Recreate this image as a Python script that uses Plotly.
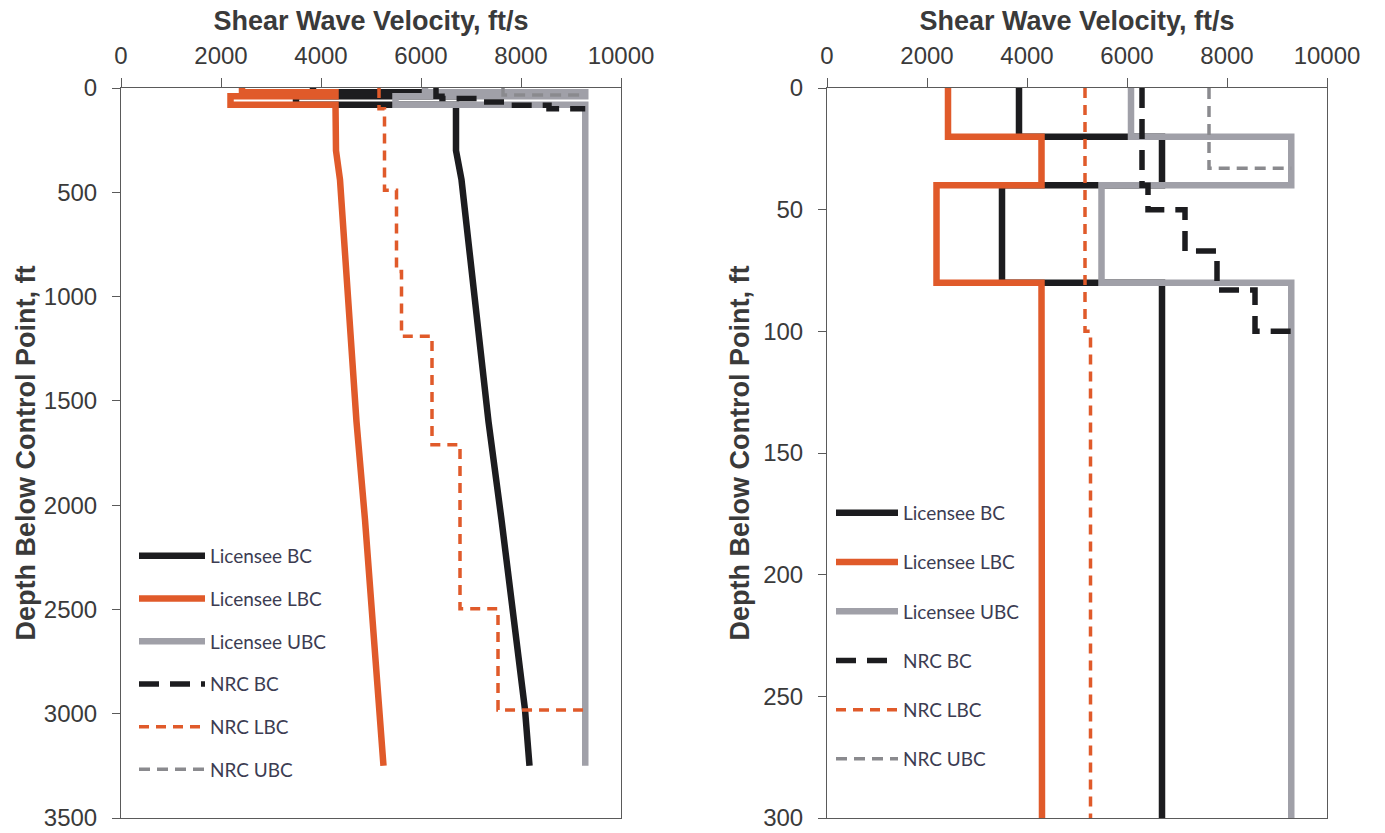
import plotly.graph_objects as go

# Shear wave velocity profiles: (depth ft, Vs ft/s) vertices of each stepped profile
lic_bc_depth = [0, 20, 20, 40, 40, 80, 80, 300, 440, 920, 1600, 2070, 2550, 2980, 3250]
lic_bc_vs = [3840, 3840, 6700, 6700, 3500, 3500, 6700, 6700, 6810, 7040, 7350, 7610, 7850, 8080, 8170]

lic_lbc_depth = [0, 20, 20, 40, 40, 80, 80, 300, 440, 920, 1600, 2070, 2550, 3030, 3250]
lic_lbc_vs = [2420, 2420, 4290, 4290, 2190, 2190, 4290, 4300, 4380, 4510, 4710, 4880, 5030, 5180, 5250]

lic_ubc_depth = [0, 20, 20, 40, 40, 80, 80, 3250]
lic_ubc_vs = [6080, 6080, 9285, 9285, 5490, 5490, 9285, 9285]

nrc_bc_depth = [0, 40, 40, 50, 50, 67, 67, 83, 83, 100, 100]
nrc_bc_vs = [6300, 6300, 6420, 6420, 7160, 7160, 7800, 7800, 8560, 8560, 9285]

nrc_lbc_depth = [0, 100, 100, 490, 490, 880, 880, 1190, 1190, 1710, 1710, 2497, 2497, 2982, 2982]
nrc_lbc_vs = [5160, 5160, 5270, 5270, 5510, 5510, 5610, 5610, 6220, 6220, 6780, 6780, 7540, 7540, 9285]

nrc_ubc_depth = [0, 33, 33]
nrc_ubc_vs = [7640, 7640, 9285]

series_names = ["Licensee BC", "Licensee LBC", "Licensee UBC", "NRC BC", "NRC LBC", "NRC UBC"]
x_ticks = [0, 2000, 4000, 6000, 8000, 10000]
left_depth_ticks = [0, 500, 1000, 1500, 2000, 2500, 3000, 3500]
right_depth_ticks = [0, 50, 100, 150, 200, 250, 300]

profiles = [
    (lic_bc_vs, lic_bc_depth),
    (lic_lbc_vs, lic_lbc_depth),
    (lic_ubc_vs, lic_ubc_depth),
    (nrc_bc_vs, nrc_bc_depth),
    (nrc_lbc_vs, nrc_lbc_depth),
    (nrc_ubc_vs, nrc_ubc_depth),
]

ORANGE = "#E05A2A"
BLACK = "#1c1c1f"
styles = [
    dict(color=BLACK, width=6.5, dash="solid"),
    dict(color=ORANGE, width=6.5, dash="solid"),
    dict(color="#a0a0a8", width=6.5, dash="solid"),
    dict(color=BLACK, width=5.5, dash="20px,11px"),
    dict(color=ORANGE, width=3.5, dash="10px,7px"),
    dict(color="#8a8a8e", width=3.5, dash="11px,7px"),
]

fig = go.Figure()
for panel, (xa, ya, leg) in enumerate([("x", "y", "legend"), ("x2", "y2", "legend2")]):
    for i, ((vs, depth), name) in enumerate(zip(profiles, series_names)):
        fig.add_trace(go.Scatter(
            x=vs, y=depth, mode="lines", name=name,
            line=styles[i], xaxis=xa, yaxis=ya,
            legend=leg, legendgroup=f"{leg}-{i}",
            showlegend=True,
        ))

W, H = 1385, 833
top_px, bottom_px = 88, 818
ydom = [1 - bottom_px / H, 1 - top_px / H]

TICK_FONT = dict(family="Liberation Sans, Arial, sans-serif", size=24, color="#3a3a3a")
TITLE_FONT = dict(family="Liberation Sans, Arial, sans-serif", size=27, color="#3a3a3a")
AXIS_LINE = "#5a5a5a"

def x_axis(domain, anchor):
    return dict(
        domain=domain, anchor=anchor, side="top", range=[0, 10000],
        tickvals=x_ticks, ticktext=[str(v) for v in x_ticks],
        ticks="outside", ticklen=9, tickcolor=AXIS_LINE, tickwidth=1,
        showline=True, linecolor=AXIS_LINE, linewidth=1, mirror=True,
        showgrid=False, zeroline=False, tickfont=TICK_FONT,
        ticklabelstandoff=4, automargin=False,
        title=dict(text="<b>Shear Wave Velocity, ft/s</b>", font=TITLE_FONT, standoff=3),
    )

def y_axis(domain, anchor, rng, ticks, title_gap):
    return dict(
        domain=domain, anchor=anchor, range=rng,
        tickvals=ticks, ticktext=[str(v) for v in ticks],
        ticks="outside", ticklen=8, tickcolor=AXIS_LINE, tickwidth=1,
        showline=True, linecolor=AXIS_LINE, linewidth=1, mirror=True,
        showgrid=False, zeroline=False, tickfont=TICK_FONT,
        ticklabelstandoff=10, automargin=False,
        title=dict(text="<b>Depth Below Control Point, ft</b>", font=TITLE_FONT, standoff=title_gap),
    )

LEG_FONT = dict(family="Lato, Open Sans, sans-serif", size=19, color="#3c3c52")

fig.update_layout(
    width=W, height=H,
    margin=dict(l=0, r=0, t=0, b=0, autoexpand=False),
    paper_bgcolor="white", plot_bgcolor="white",
    xaxis=x_axis([121 / W, 621 / W], "y"),
    yaxis=y_axis(ydom, "x", [3500, 0], left_depth_ticks, 0),
    xaxis2=x_axis([827 / W, 1327 / W], "y2"),
    yaxis2=y_axis(ydom, "x2", [300, 0], right_depth_ticks, 5),
    legend=dict(
        x=134 / W, y=1 - 537 / H, xanchor="left", yanchor="top",
        itemwidth=66, tracegroupgap=15, font=LEG_FONT,
        bgcolor="rgba(0,0,0,0)", borderwidth=0,
    ),
    legend2=dict(
        x=831 / W, y=1 - 494 / H, xanchor="left", yanchor="top",
        itemwidth=62, tracegroupgap=21.5, font=LEG_FONT,
        bgcolor="rgba(0,0,0,0)", borderwidth=0,
    ),
    showlegend=True,
)

fig.write_html("out.html")
